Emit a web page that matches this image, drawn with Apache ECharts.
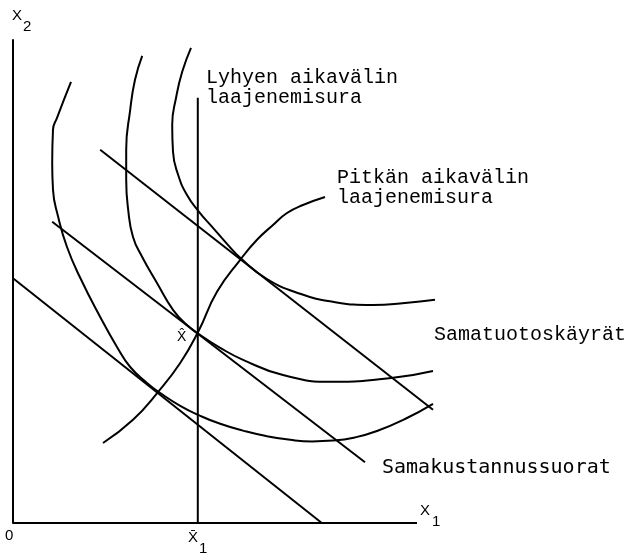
<!DOCTYPE html>
<html>
<head>
<meta charset="utf-8">
<script src="https://cdn.jsdelivr.net/npm/echarts@6/dist/echarts.min.js"></script>
<style>
  html, body { margin: 0; padding: 0; background: #fff; }
  #main { width: 628px; height: 554px; }
</style>
</head>
<body>
<div id="main"></div>
<script>
// tuotantokäyrät, yksiköt: X1 vaaka-akselilla, X2 pystyakselilla
var isoquantLow = [
  [1.45, 11.03], [1.10, 10.13], [1.00, 9.83], [0.98, 9.00], [1.00, 8.33],
  [1.13, 7.65], [1.35, 6.90], [1.68, 6.13], [2.18, 5.15], [2.60, 4.40],
  [2.93, 3.90], [3.35, 3.50], [3.68, 3.25], [4.18, 2.93], [4.68, 2.68],
  [5.18, 2.48], [5.75, 2.31], [6.30, 2.18], [6.93, 2.08], [7.48, 2.04],
  [8.00, 2.06], [8.55, 2.14], [9.10, 2.30], [9.80, 2.60], [10.50, 2.98]
];
var isoquantMid = [
  [3.23, 11.68], [3.05, 11.08], [2.93, 10.33], [2.83, 9.33], [2.83, 8.58],
  [2.88, 7.83], [3.00, 7.15], [3.23, 6.65], [3.60, 6.00], [4.00, 5.33],
  [4.35, 4.95], [4.68, 4.70], [5.18, 4.38], [5.75, 4.08], [6.75, 3.70],
  [8.00, 3.53], [9.50, 3.63], [10.50, 3.80]
];
var isoquantHigh = [
  [4.45, 11.88], [4.23, 11.28], [4.08, 10.65], [3.98, 9.95], [4.00, 9.28],
  [4.13, 8.70], [4.35, 8.20], [4.65, 7.78], [5.00, 7.38], [5.35, 6.98],
  [5.68, 6.63], [6.35, 6.10], [7.18, 5.73], [8.00, 5.53], [9.00, 5.45],
  [9.80, 5.50], [10.55, 5.58]
];
// samakustannussuorat
var isocost1 = [[0.00, 6.12], [7.72, 0.00]];
var isocost2 = [[0.98, 7.53], [8.80, 1.52]];
var isocost3 = [[2.18, 9.33], [10.50, 2.83]];
// pitkän aikavälin laajenemisura
var expansionLong = [
  [2.25, 2.00], [3.00, 2.58], [3.63, 3.28], [4.18, 4.00], [4.63, 4.78],
  [5.10, 5.78], [5.68, 6.58], [6.10, 7.08], [6.50, 7.45], [6.85, 7.75],
  [7.25, 7.95], [7.80, 8.15]
];
// lyhyen aikavälin laajenemisura (X1 kiinteä)
var x1Fixed = 4.62;
var shortRunTop = 10.63;
// vaaka-akselin pituus
var x1AxisEnd = 10.1;

var monoFont = '"Liberation Mono", "DejaVu Sans Mono", monospace';
var sansFont = '"Liberation Sans", "DejaVu Sans", sans-serif';

function curve(data, smooth) {
  return {
    type: 'line',
    data: data,
    smooth: smooth,
    showSymbol: false,
    clip: false,
    silent: true,
    lineStyle: { color: '#000', width: 2 }
  };
}

function txt(text, x, y, size, font) {
  return {
    type: 'text',
    silent: true,
    style: {
      text: text, x: x, y: y,
      fill: '#000',
      font: size + 'px ' + font,
      verticalAlign: 'middle'
    }
  };
}

function drawChart() {
  var dom = document.getElementById('main');
  var chart = echarts.init(dom);

  var option = {
    animation: false,
    backgroundColor: '#fff',
    grid: { left: 13, right: 191, top: 40, bottom: 31 },
    xAxis: {
      type: 'value', min: 0, max: 10.6,
      axisLine: { show: false },
      axisTick: { show: false }, axisLabel: { show: false }, splitLine: { show: false }
    },
    yAxis: {
      type: 'value', min: 0, max: 12.075,
      axisLine: { show: true, onZero: false, lineStyle: { color: '#000', width: 2 } },
      axisTick: { show: false }, axisLabel: { show: false }, splitLine: { show: false }
    },
    series: [
      curve([[0, 0], [x1AxisEnd, 0]], false),
      curve(isoquantLow, 0.5),
      curve(isoquantMid, 0.5),
      curve(isoquantHigh, 0.5),
      curve(isocost1, false),
      curve(isocost2, false),
      curve(isocost3, false),
      curve(expansionLong, 0.5),
      curve([[x1Fixed, 0], [x1Fixed, shortRunTop]], false)
    ],
    graphic: [
      txt('X', 12, 16, 15, sansFont),
      txt('2', 23, 27, 15, sansFont),
      txt('0', 5, 536, 15, sansFont),
      txt('X\u0304', 188, 538, 15, sansFont),
      txt('1', 199, 549, 15, sansFont),
      txt('X', 420, 511, 15, sansFont),
      txt('1', 432, 522, 15, sansFont),
      txt('X\u0302', 177, 337, 14, sansFont),
      txt('Lyhyen aikavälin', 206, 78, 20, monoFont),
      txt('laajenemisura', 206, 98, 20, monoFont),
      txt('Pitkän aikavälin', 337, 178, 20, monoFont),
      txt('laajenemisura', 337, 198, 20, monoFont),
      txt('Samatuotoskäyrät', 434, 335, 20, monoFont),
      txt('Samakustannussuorat', 382, 468, 20, '"DejaVu Sans Mono", monospace')
    ]
  };

  chart.setOption(option, true);
}

drawChart();
</script>
</body>
</html>
